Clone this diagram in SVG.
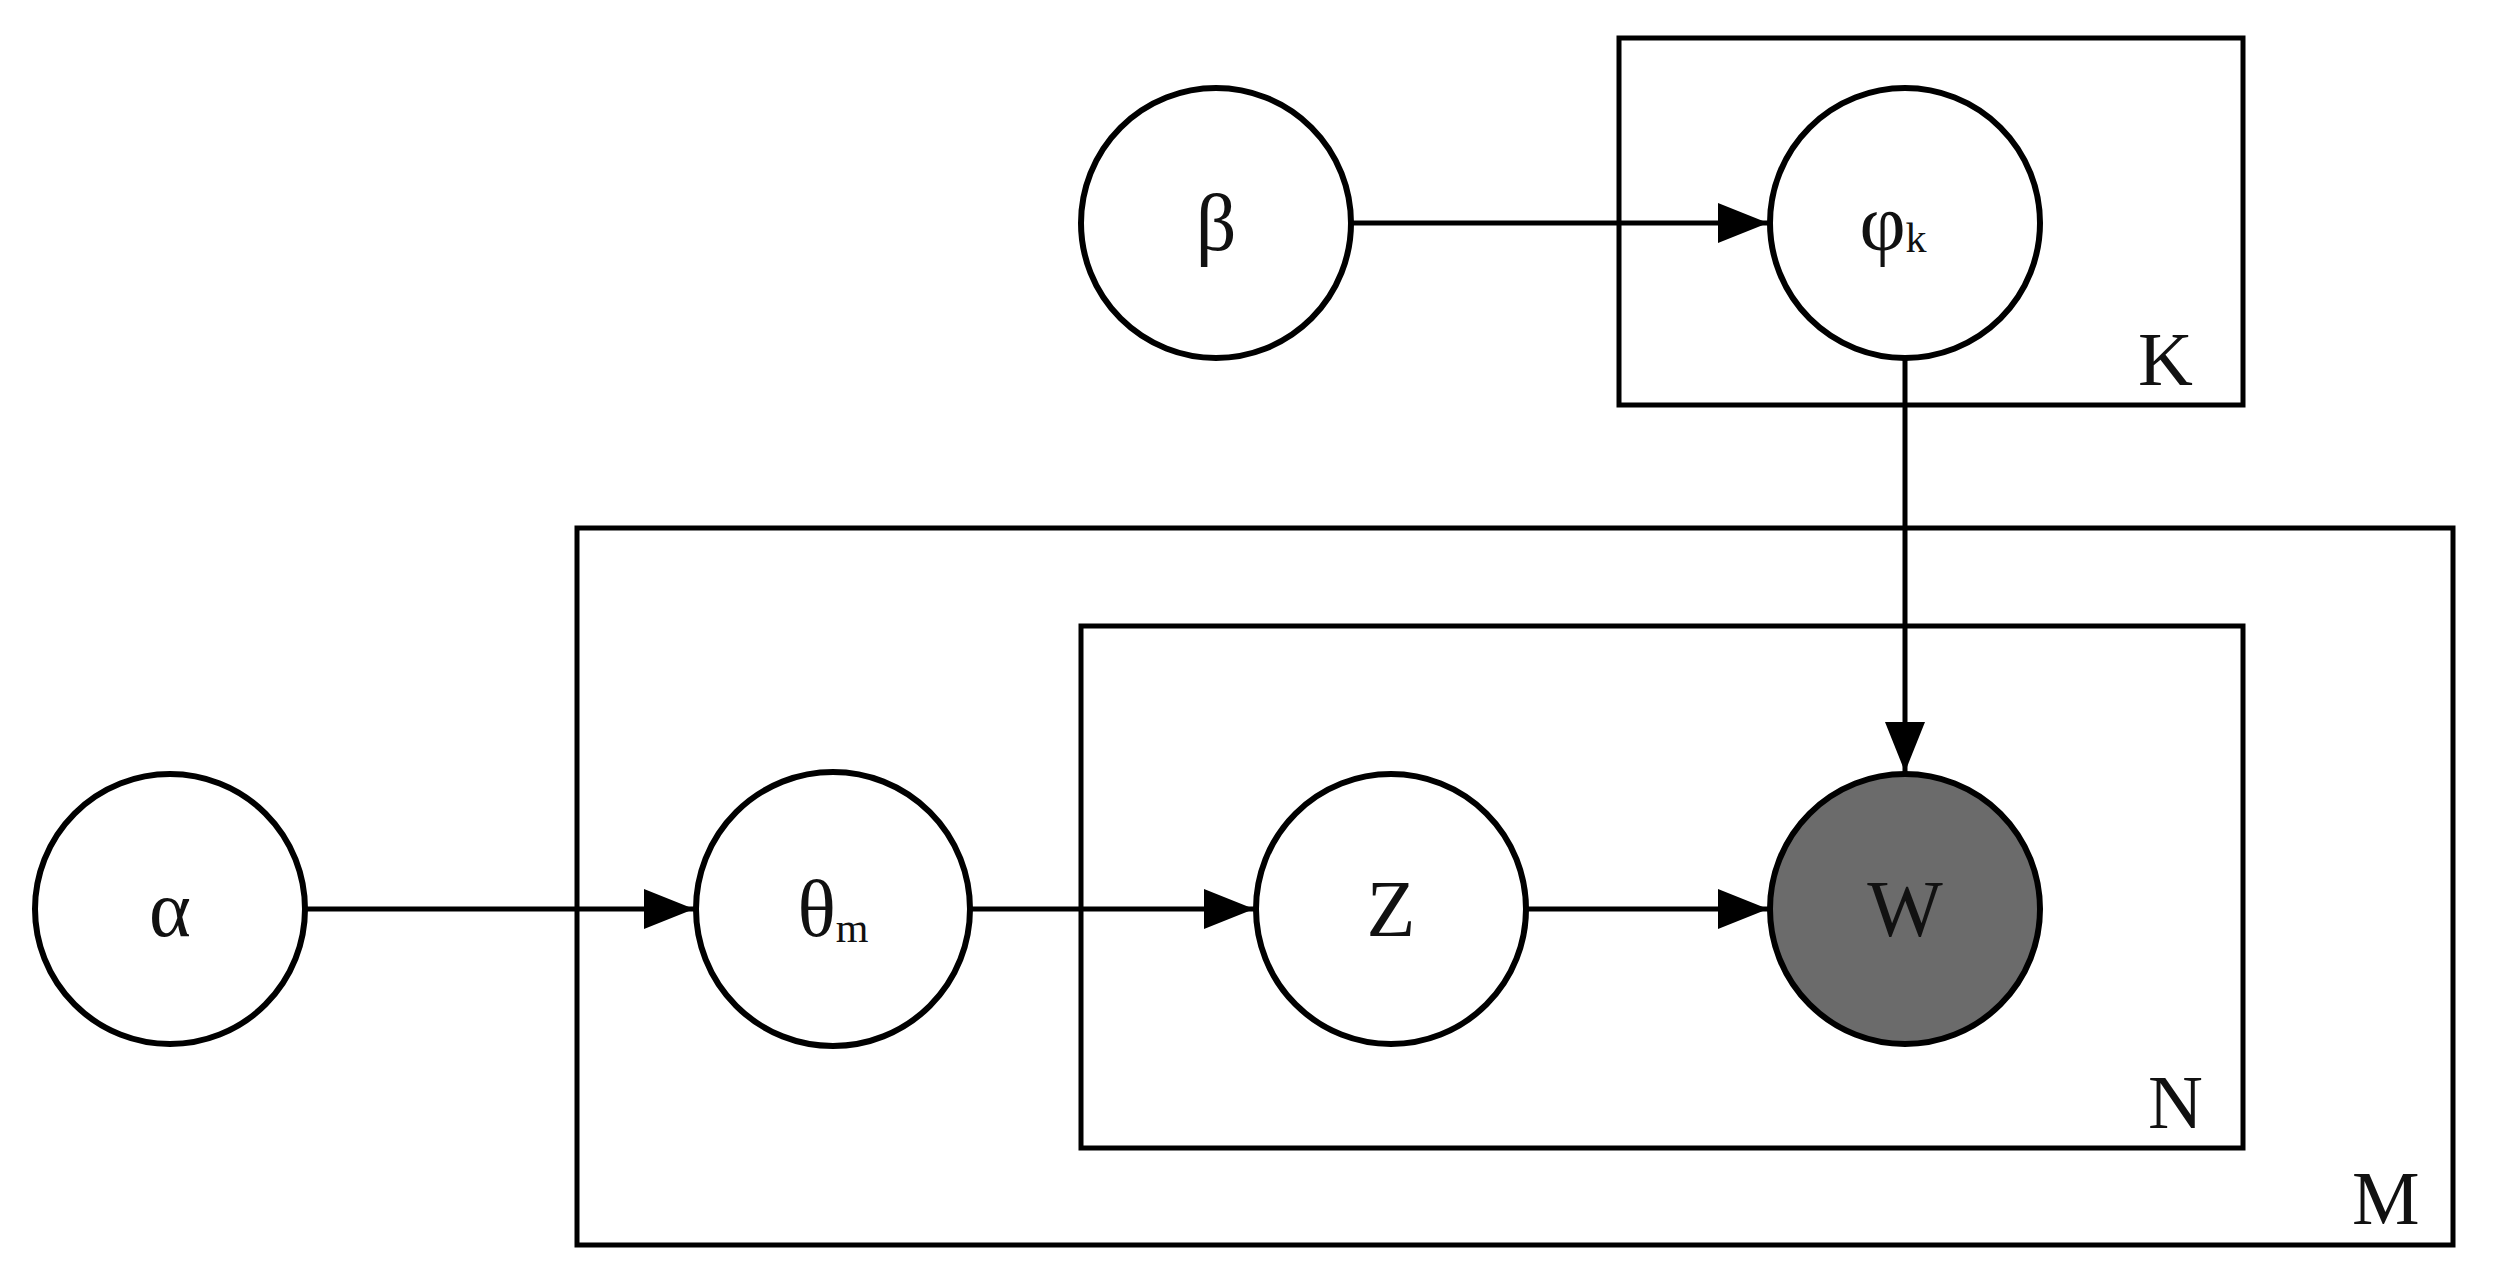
<svg xmlns="http://www.w3.org/2000/svg" width="2493" height="1286" viewBox="0 0 2493 1286">
<style>
.n{fill:#fff;stroke:#000;stroke-width:6}
.box{fill:none;stroke:#000;stroke-width:5}
.e{stroke:#000;stroke-width:5;fill:none;marker-end:url(#ah)}
text{font-family:"Liberation Serif","DejaVu Serif",serif;fill:#111;text-anchor:middle}
.t{font-size:80px}
.s{font-size:42px}
.p{font-size:76px;text-anchor:start}
</style>
<defs><marker id="ah" markerWidth="10" markerHeight="8" refX="10" refY="4" orient="auto" markerUnits="strokeWidth"><path d="M0,0 L10,4 L0,8 Z" fill="#000"/></marker></defs>
<rect fill="#fff" width="2493" height="1286"/>
<g id="plateK"><rect class="box" x="1619" y="38" width="624" height="367"/><text class="p" x="2138" y="385">K</text></g>
<g id="plateM"><rect class="box" x="577" y="528" width="1876" height="717"/><text class="p" x="2352" y="1224">M</text></g>
<g id="plateN"><rect class="box" x="1081" y="626" width="1162" height="522"/><text class="p" x="2148" y="1128">N</text></g>
<g id="connectors">
<line class="e" x1="1351" y1="223" x2="1768" y2="223"/>
<line class="e" x1="1905" y1="358" x2="1905" y2="772"/>
<line class="e" x1="305" y1="909" x2="694" y2="909"/>
<line class="e" x1="970" y1="909" x2="1254" y2="909"/>
<line class="e" x1="1526" y1="909" x2="1768" y2="909"/>
</g>
<g id="beta"><circle class="n" cx="1216" cy="223" r="135"/><text class="t" x="1216" y="250">β</text></g>
<g id="phi"><circle class="n" cx="1905" cy="223" r="135"/><text class="t" x="1893" y="250">φ<tspan class="s" dy="2">k</tspan></text></g>
<g id="alpha"><circle class="n" cx="170" cy="909" r="135"/><text class="t" x="170" y="936">α</text></g>
<g id="theta"><circle class="n" cx="833" cy="909" r="137"/><text class="t" x="833" y="936">θ<tspan class="s" dy="6">m</tspan></text></g>
<g id="z"><circle class="n" cx="1391" cy="909" r="135"/><text class="t" x="1391" y="936">Z</text></g>
<g id="w"><circle class="n" style="fill:#6b6b6b" cx="1905" cy="909" r="135"/><text class="t" x="1905" y="936">W</text></g>
</svg>
